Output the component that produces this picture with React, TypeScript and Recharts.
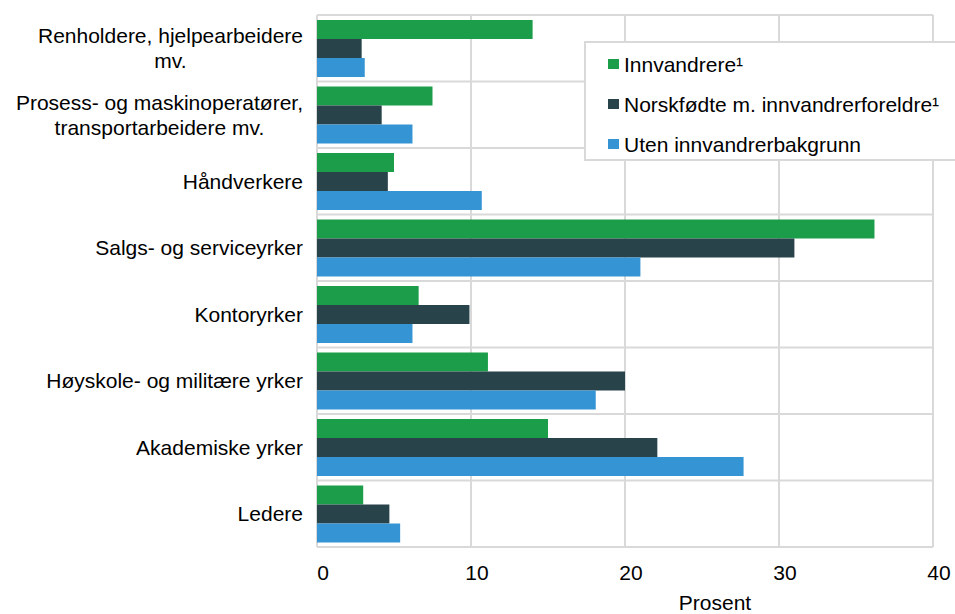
import React from 'react';
import { BarChart, Bar, XAxis, YAxis, CartesianGrid, Legend, Label } from 'recharts';

const categories = [
  'Renholdere, hjelpearbeidere\nmv.',
  'Prosess- og maskinoperatører,\ntransportarbeidere mv.',
  'Håndverkere',
  'Salgs- og serviceyrker',
  'Kontoryrker',
  'Høyskole- og militære yrker',
  'Akademiske yrker',
  'Ledere',
];
const innvandrere = [14.0, 7.5, 5.0, 36.2, 6.6, 11.1, 15.0, 3.0];
const norskfodte = [2.9, 4.2, 4.6, 31.0, 9.9, 20.0, 22.1, 4.7];
const utenBakgrunn = [3.1, 6.2, 10.7, 21.0, 6.2, 18.1, 27.7, 5.4];
const seriesNames = ['Innvandrere¹', 'Norskfødte m. innvandrerforeldre¹', 'Uten innvandrerbakgrunn'];
const seriesColors = ['#1c9d4a', '#284349', '#3594d3'];
const xTicks = [0, 10, 20, 30, 40];

const data = categories.map((c, i) => ({
  cat: c,
  a: innvandrere[i],
  b: norskfodte[i],
  c: utenBakgrunn[i],
}));

const FONT = "'Liberation Sans', Arial, Helvetica, sans-serif";
const FS = 21;

let ctx: CanvasRenderingContext2D | null = null;
function measure(t: string): number {
  try {
    if (!ctx) {
      const cv = document.createElement('canvas');
      ctx = cv.getContext('2d');
    }
    if (ctx) {
      ctx.font = `${FS}px 'Liberation Sans', Arial, sans-serif`;
      return ctx.measureText(t).width;
    }
  } catch (e) {}
  return t.length * FS * 0.52;
}

const CatTick = (props: any) => {
  const { x, y, payload } = props;
  const lines = String(payload.value).split('\n');
  const lh = 25;
  if (lines.length === 1) {
    return (
      <text x={x} y={y} dy="0.355em" textAnchor="end" fontFamily={FONT} fontSize={FS} fill="#000">
        {lines[0]}
      </text>
    );
  }
  const maxW = Math.max(...lines.map(measure));
  const cx = x - maxW / 2;
  return (
    <g>
      {lines.map((l, i) => (
        <text
          key={i}
          x={cx}
          y={y + (i - (lines.length - 1) / 2) * lh}
          dy="0.355em"
          textAnchor="middle"
          fontFamily={FONT}
          fontSize={FS}
          fill="#000"
        >
          {l}
        </text>
      ))}
    </g>
  );
};

const LegendBox = (props: any) => {
  const payload = props.payload || [];
  return (
    <div
      style={{
        boxSizing: 'border-box',
        width: 380,
        height: 120,
        border: '2px solid #d9d9d9',
        background: '#fff',
        paddingTop: 1,
        fontFamily: FONT,
        fontSize: FS,
        color: '#000',
      }}
    >
      {payload.map((p: any, i: number) => (
        <div key={i} style={{ display: 'flex', alignItems: 'center', height: 40, paddingLeft: 22 }}>
          <span style={{ display: 'inline-block', width: 11, height: 10, background: p.color, marginRight: 5 }} />
          <span style={{ lineHeight: 1, whiteSpace: 'nowrap' }}>{p.value}</span>
        </div>
      ))}
    </div>
  );
};

const hGen = (args: any) => {
  const { offset } = args;
  const n = categories.length;
  const out: number[] = [];
  for (let i = 0; i <= n; i++) out.push(offset.top + (i * offset.height) / n);
  return out;
};

const ProsentLabel = (props: any) => {
  const vb = props.viewBox || {};
  return (
    <text
      x={vb.x + vb.width / 2 + 90}
      y={vb.y + vb.height - 4}
      textAnchor="middle"
      fontFamily={FONT}
      fontSize={FS}
      fill="#000"
    >
      Prosent
    </text>
  );
};

export default function App() {
  return (
    <div style={{ position: 'absolute', left: 0, top: 0, width: 955, height: 614, overflow: 'hidden', background: '#fff' }}>
      <BarChart
        width={955}
        height={614}
        layout="vertical"
        data={data}
        margin={{ top: 15, right: 22, bottom: 0, left: 0 }}
        barCategoryGap={5}
        barGap={0}
      >
        <CartesianGrid stroke="#d9d9d9" strokeWidth={2} horizontalCoordinatesGenerator={hGen} />
        <XAxis
          type="number"
          domain={[0, 40]}
          ticks={xTicks}
          axisLine={false}
          tickLine={false}
          tickSize={0}
          tickMargin={18}
          height={67}
          dx={6}
          tick={{ fontFamily: FONT, fontSize: FS, fill: '#000' }}
        >
          <Label content={<ProsentLabel />} />
        </XAxis>
        <YAxis
          type="category"
          dataKey="cat"
          width={317}
          axisLine={false}
          tickLine={false}
          tickSize={0}
          tickMargin={14}
          interval={0}
          tick={<CatTick />}
        />
        <Legend
          layout="horizontal"
          verticalAlign="middle"
          align="center"
          content={<LegendBox />}
          wrapperStyle={{ position: 'absolute', left: 584, top: 41, width: 380, height: 120 }}
        />
        <Bar dataKey="a" name={seriesNames[0]} fill={seriesColors[0]} isAnimationActive={false} />
        <Bar dataKey="b" name={seriesNames[1]} fill={seriesColors[1]} isAnimationActive={false} />
        <Bar dataKey="c" name={seriesNames[2]} fill={seriesColors[2]} isAnimationActive={false} />
      </BarChart>
    </div>
  );
}
